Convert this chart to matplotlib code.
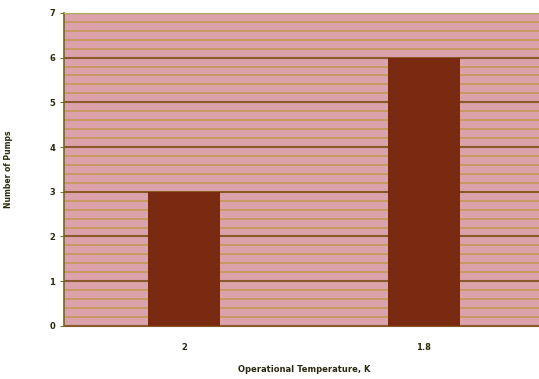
import matplotlib
matplotlib.use("Agg")
import matplotlib.pyplot as plt
from matplotlib.ticker import MultipleLocator

categories = ["2", "1.8"]
pumps = [3, 6]

fig = plt.figure(figsize=(5.39, 3.79), dpi=100)
ax = fig.add_axes([0.119, 0.14, 0.89, 0.826])
ax.set_facecolor("#dca2ab")

x = range(len(categories))
ax.bar(x, pumps, width=0.3, color="#7b2a12", zorder=3)
ax.set_xlim(-0.5, 1.5)
ax.set_ylim(0, 7)
ax.set_xticks(list(x))
ax.set_xticklabels(categories)
ax.yaxis.set_major_locator(MultipleLocator(1))
ax.yaxis.set_minor_locator(MultipleLocator(0.2))
ax.grid(which="major", axis="y", color="#8a5a2a", linewidth=1.5, zorder=1)
ax.grid(which="minor", axis="y", color="#c8995a", linewidth=1.3, zorder=1)
ax.tick_params(axis="y", which="minor", length=0)
ax.tick_params(axis="y", which="major", length=3, color="#7a7a30", labelsize=6, labelcolor="#2a2a10")
ax.tick_params(axis="x", length=0, labelsize=6, labelcolor="#2a2a10", pad=12)
for lab in ax.get_xticklabels() + ax.get_yticklabels():
    lab.set_fontweight("bold")
ax.spines["right"].set_visible(False)
ax.spines["left"].set_color("#6a6a20")
ax.spines["left"].set_linewidth(1.2)
ax.spines["top"].set_color("#b0b050")
ax.spines["bottom"].set_color("#8a5a2a")

ax.set_xlabel("Operational Temperature, K", fontsize=6, fontweight="bold", color="#2a2a10", labelpad=10)
ax.set_ylabel("Number of Pumps", fontsize=5.5, fontweight="bold", color="#2a2a10", labelpad=26)

fig.savefig("out.png", dpi=100)
